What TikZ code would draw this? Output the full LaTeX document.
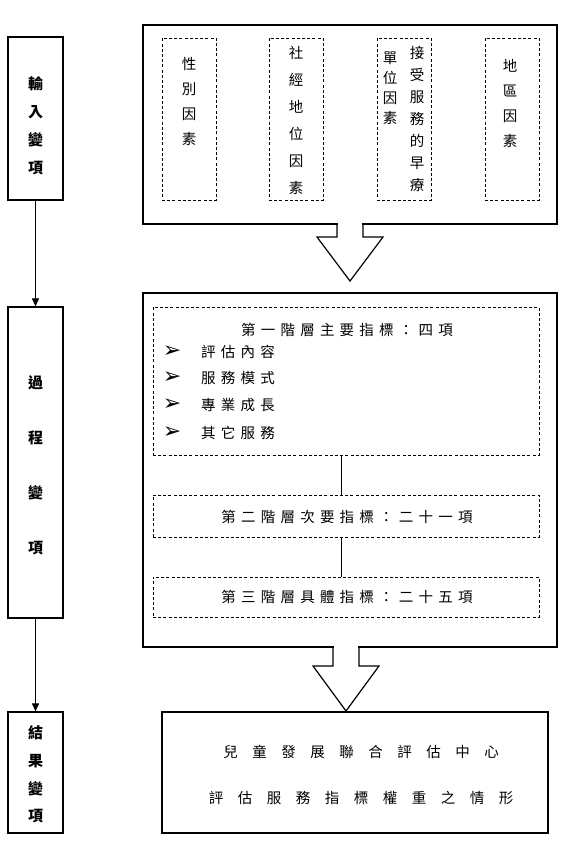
\documentclass[tikz,border=0pt]{standalone}
\usepackage{fontspec}
\newfontfamily\cjk{Noto Sans CJK TC}
\newfontfamily\cjkwide{Noto Sans CJK TC}[LetterSpace=36]
\newfontfamily\cjkwider{Noto Sans CJK TC}[LetterSpace=100]
\newfontfamily\dv{DejaVu Sans}
\usetikzlibrary{arrows.meta,calc}
\tikzset{
  solidbox/.style={draw, line width=1.2pt, inner sep=0pt},
  dashbox/.style={draw, line width=0.9pt, dash pattern=on 3pt off 2.2pt, inner sep=0pt},
  vtext/.style={font=\cjk\fontsize{14.5}{#1}\selectfont, align=center, inner sep=0pt},
  ltext/.style={font=\cjk\bfseries\fontsize{15}{#1}\selectfont, align=center, inner sep=0pt},
  wtext/.style={font=\cjkwide\fontsize{14.5}{16}\selectfont, inner sep=0pt},
  btext/.style={font=\cjkwider\fontsize{14.5}{16}\selectfont, inner sep=0pt},
  bullet/.style={font=\dv\fontsize{22}{24}\selectfont, inner sep=0pt},
  flowarrow/.style={line width=1pt, -{Triangle[length=8pt,width=7pt]}},
  blockarrow/.style={line width=1.2pt, line join=miter}
}
\begin{document}
\begin{tikzpicture}[x=1pt,y=-1pt]
\useasboundingbox (0,0) rectangle (565,852);

% left column
\node[solidbox, minimum width=55pt, minimum height=163pt] (in1) at (35.5,118.5) {};
\node[solidbox, minimum width=55pt, minimum height=311pt] (proc) at (35.5,462.5) {};
\node[solidbox, minimum width=55pt, minimum height=121pt] (out) at (35.5,772.5) {};
\node[ltext=28] (in1t) at (35.5,126) {輸\\入\\變\\項};
\node[ltext=55] (proct) at (35.5,465) {過\\程\\變\\項};
\node[ltext=27.7] (outt) at (35.5,774.5) {結\\果\\變\\項};
\draw[flowarrow] (in1) -- (proc);
\draw[flowarrow] (proc) -- (out);

% top box
\node[solidbox, minimum width=414pt, minimum height=199pt] (top) at (350,124.5) {};
\node[dashbox, minimum width=54pt, minimum height=162pt] (d1) at (189,119) {};
\node[dashbox, minimum width=54pt, minimum height=162pt] (d2) at (296,119) {};
\node[dashbox, minimum width=54pt, minimum height=162pt] (d3) at (404,119) {};
\node[dashbox, minimum width=54pt, minimum height=162pt] (d4) at (512,119) {};
\node[vtext=25] (d1t) at (189,101) {性\\別\\因\\素};
\node[vtext=27] (d2t) at (296,120.5) {社\\經\\地\\位\\因\\素};
\node[vtext=22] (d3a) at (417,118.5) {接\\受\\服\\務\\的\\早\\療};
\node[vtext=20] (d3b) at (390,88) {單\\位\\因\\素};
\node[vtext=25] (d4t) at (510,103) {地\\區\\因\\素};

% middle box
\node[solidbox, minimum width=414pt, minimum height=354pt] (mid) at (350,470) {};
\node[dashbox, minimum width=386pt, minimum height=148pt] (l1) at (346,381) {};
\node[dashbox, minimum width=386pt, minimum height=42pt] (l2) at (346,516) {};
\node[dashbox, minimum width=386pt, minimum height=40pt] (l3) at (346,597) {};
\node[wtext] (l1t) at (347,330) {第一階層主要指標：四項};
\foreach \y/\t [count=\i] in {352/評估內容, 378/服務模式, 405/專業成長, 433/其它服務} {
  \node[bullet] (b\i) at (172,\y) {➢};
  \node[wtext, anchor=west] (item\i) at (201,\y) {\t};
}
\node[wtext] (l2t) at (347,517) {第二階層次要指標：二十一項};
\node[wtext] (l3t) at (347,597) {第三階層具體指標：二十五項};
\coordinate (lx) at (341,0);
\draw[line width=0.9pt] (l1.south -| lx) -- (l2.north -| lx);
\draw[line width=0.9pt] (l2.south -| lx) -- (l3.north -| lx);

% bottom box
\node[solidbox, minimum width=386pt, minimum height=121pt] (res) at (355,772.5) {};
\node[btext] (res1) at (361,752) {兒童發展聯合評估中心};
\node[btext] (res2) at (361,798) {評估服務指標權重之情形};

% block arrows
\fill[white] (337.6,221) rectangle (362.4,227);
\draw[blockarrow] (337,224) -- (337,237) -- (317,237) -- (350,281) -- (383,237) -- (363,237) -- (363,224);
\fill[white] (333.6,644) rectangle (358.4,650);
\draw[blockarrow] (333,647) -- (333,666) -- (313,666) -- (346,711) -- (379,666) -- (359,666) -- (359,647);
\end{tikzpicture}
\end{document}
